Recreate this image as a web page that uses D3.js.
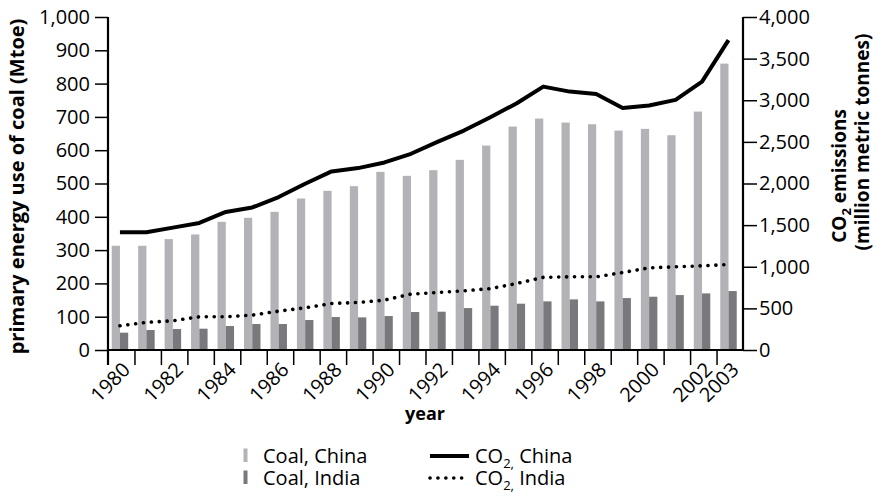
<!DOCTYPE html>
<html>
<head>
<meta charset="utf-8">
<script src="https://cdn.jsdelivr.net/npm/d3@7"></script>
<style>
  body { margin: 0; background: #fff; }
  svg { display: block; font-family: "Open Sans", sans-serif; }
  .axis path, .axis line { stroke: #000; }
  .axis text { font-size: 20px; fill: #000; font-family: "Open Sans", sans-serif; }
</style>
</head>
<body>
<div class="chart"></div>
<script>
// data
const years = d3.range(1980, 2004);
const coalChina = [313, 313, 333, 347, 385, 397, 415, 455, 478, 492, 535, 523, 540, 571, 614, 671, 695, 683, 678, 659, 664, 645, 716, 860];
const coalIndia = [52, 60, 63, 64, 72, 78, 78, 90, 99, 98, 102, 114, 115, 126, 133, 139, 146, 152, 146, 156, 160, 165, 170, 177];
const co2China = [1414, 1414, 1470, 1526, 1658, 1712, 1837, 1997, 2145, 2185, 2253, 2357, 2500, 2636, 2796, 2964, 3164, 3104, 3076, 2908, 2936, 3004, 3223, 3723];
const co2India = [291, 332, 351, 399, 399, 419, 467, 507, 559, 571, 599, 671, 691, 711, 737, 799, 873, 879, 879, 931, 987, 999, 1011, 1027];
const leftTicks = d3.range(0, 1001, 100);
const rightTicks = d3.range(0, 4001, 500);
const labelYears = [1980, 1982, 1984, 1986, 1988, 1990, 1992, 1994, 1996, 1998, 2000, 2002, 2003];

const width = 876, height = 496;
const margin = {top: 17, right: 133, bottom: 146, left: 108};
const x0 = margin.left, x1 = width - margin.right;
const yTop = margin.top, yBot = height - margin.bottom;

const svg = d3.select('.chart').append('svg')
  .attr('width', width).attr('height', height);

const x = d3.scaleBand().domain(years).range([x0, x1]);
const sub = d3.scaleBand().domain(['china', 'india']).range([3.7, 20.2]);
const yL = d3.scaleLinear().domain([0, 1000]).range([yBot, yTop]);
const yR = d3.scaleLinear().domain([0, 4000]).range([yBot, yTop]);

// bars
const rows = years.map((yr, i) => ({yr, china: coalChina[i], india: coalIndia[i], c2c: co2China[i], c2i: co2India[i]}));
svg.append('g').selectAll('rect').data(rows).join('rect')
  .attr('x', d => x(d.yr) + sub('china'))
  .attr('y', d => yL(d.china))
  .attr('width', sub.bandwidth())
  .attr('height', d => yBot - yL(d.china))
  .attr('fill', '#b3b3b7');
svg.append('g').selectAll('rect').data(rows).join('rect')
  .attr('x', d => x(d.yr) + sub('india'))
  .attr('y', d => yL(d.india))
  .attr('width', sub.bandwidth())
  .attr('height', d => yBot - yL(d.india))
  .attr('fill', '#79797d');

// lines
const px = d => x(d.yr) + sub('india');
svg.append('path').datum(rows)
  .attr('fill', 'none').attr('stroke', '#000').attr('stroke-width', 4)
  .attr('stroke-linejoin', 'round')
  .attr('d', d3.line().x(px).y(d => yR(d.c2c)));
svg.append('path').datum(rows)
  .attr('fill', 'none').attr('stroke', '#000').attr('stroke-width', 3.6)
  .attr('stroke-linecap', 'round').attr('stroke-dasharray', '0.1,7.8')
  .attr('d', d3.line().x(px).y(d => yR(d.c2i)));

// axes
svg.append('g').attr('class', 'axis')
  .attr('transform', `translate(${x0},0)`)
  .call(d3.axisLeft(yL).tickValues(leftTicks).tickSize(13).tickPadding(5).tickFormat(d3.format(',')))
  .call(g => g.select('.domain').attr('stroke-width', 2.2).attr('d', `M0,${yBot + 15}V${yTop}`))
  .call(g => g.selectAll('.tick line').attr('stroke-width', 1.5));

svg.append('g').attr('class', 'axis')
  .attr('transform', `translate(${x1},0)`)
  .call(d3.axisRight(yR).tickValues(rightTicks).tickSize(14).tickPadding(2).tickFormat(d3.format(',')))
  .call(g => g.select('.domain').attr('stroke-width', 2.2).attr('d', `M0,${yBot}V${yTop}`))
  .call(g => g.selectAll('.tick line').attr('stroke-width', 1.5));

const edge = d3.scaleLinear().domain([0, years.length]).range([x0, x1]);
svg.append('g').attr('class', 'axis')
  .attr('transform', `translate(0,${yBot})`)
  .call(d3.axisBottom(edge).tickValues(d3.range(1, years.length)).tickSize(15).tickFormat(''))
  .call(g => g.select('.domain').attr('stroke-width', 2.2).attr('d', `M${x0},0H${x1}`))
  .call(g => g.selectAll('.tick line').attr('stroke-width', 1.5));

svg.append('g').selectAll('text').data(labelYears).join('text')
  .attr('transform', d => `translate(${x(d) + x.bandwidth() - 3},${yBot + 21}) rotate(-45)`)
  .attr('text-anchor', 'end')
  .attr('font-size', 20)
  .text(d => d);

// axis titles
svg.append('text')
  .attr('transform', `translate(24,${(yTop + yBot) / 2 + 3}) rotate(-90)`)
  .attr('text-anchor', 'middle').attr('font-weight', 'bold').attr('font-size', 20)
  .text('primary energy use of coal (Mtoe)');

const rt = svg.append('text')
  .attr('transform', `translate(846,176) rotate(-90)`)
  .attr('text-anchor', 'middle').attr('font-weight', 'bold').attr('font-size', 19);
rt.append('tspan').text('CO');
rt.append('tspan').attr('font-size', 13).attr('dy', 5).text('2');
rt.append('tspan').attr('dy', -5).text(' emissions');
svg.append('text')
  .attr('transform', `translate(869,142) rotate(-90)`)
  .attr('text-anchor', 'middle').attr('font-weight', 'bold').attr('font-size', 19)
  .text('(million metric tonnes)');

svg.append('text')
  .attr('x', 425).attr('y', 420)
  .attr('text-anchor', 'middle').attr('font-weight', 'bold').attr('font-size', 18)
  .text('year');

// legend
const legend = svg.append('g').attr('font-size', 20);
const barItems = [{label: 'Coal, China', color: '#b3b3b7', y: 463}, {label: 'Coal, India', color: '#79797d', y: 485}];
barItems.forEach(it => {
  legend.append('rect').attr('x', 243.5).attr('y', it.y - 14.5).attr('width', 4).attr('height', 13.5).attr('fill', it.color);
  legend.append('text').attr('x', 263).attr('y', it.y).text(it.label);
});
const lineItems = [{label: 'China', dash: null, w: 4, y: 463}, {label: 'India', dash: '0.1,7.8', w: 3.6, y: 485}];
lineItems.forEach(it => {
  legend.append('line').attr('x1', 430).attr('x2', 469).attr('y1', it.y - 7).attr('y2', it.y - 7)
    .attr('stroke', '#000').attr('stroke-width', it.w)
    .attr('stroke-dasharray', it.dash).attr('stroke-linecap', it.dash ? 'round' : 'butt');
  const t = legend.append('text').attr('x', 475).attr('y', it.y);
  t.append('tspan').text('CO');
  t.append('tspan').attr('font-size', 13).attr('dy', 5).text('2,');
  t.append('tspan').attr('dy', -5).text(' ' + it.label);
});
</script>
</body>
</html>
